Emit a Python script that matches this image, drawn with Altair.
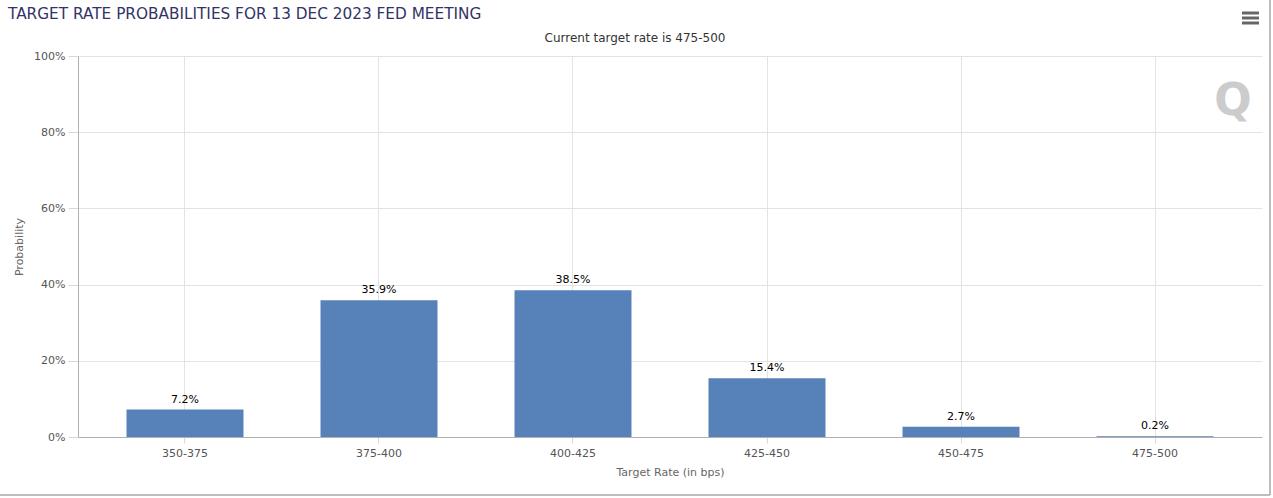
import altair as alt
import pandas as pd

categories = ["350-375", "375-400", "400-425", "425-450", "450-475", "475-500"]
probabilities = [7.2, 35.9, 38.5, 15.4, 2.7, 0.2]
y_ticks = [0, 20, 40, 60, 80, 100]

title_text = "TARGET RATE PROBABILITIES FOR 13 DEC 2023 FED MEETING"
subtitle_text = "Current target rate is 475-500"

FONT = "DejaVu Sans"
BAR = "#5681b9"

df = pd.DataFrame({
    "rate": categories,
    "prob": probabilities,
    "label": [f"{v:.1f}%" for v in probabilities],
})

W, H = 1184, 381

x_enc = alt.X(
    "rate:N", sort=categories,
    scale=alt.Scale(paddingInner=0.397, paddingOuter=0.25),
    axis=alt.Axis(
        title="Target Rate (in bps)", labelAngle=0, labelFont=FONT, labelFontSize=11,
        labelColor="#555555", titleFont=FONT, titleFontSize=11, titleFontWeight="normal",
        titleColor="#666666", domainColor="#b0b0b0", tickColor="#d8d8d8", tickSize=6,
        labelPadding=4, titlePadding=8, grid=True, gridColor="#e3e3e3",
    ),
)
y_enc = alt.Y(
    "prob:Q",
    scale=alt.Scale(domain=[0, 100], nice=False),
    axis=alt.Axis(
        title="Probability", values=y_ticks, labelExpr="datum.value + '%'",
        labelFont=FONT, labelFontSize=11, labelColor="#555555",
        titleFont=FONT, titleFontSize=11, titleFontWeight="normal", titleColor="#666666",
        domainColor="#b0b0b0", tickColor="#d8d8d8", tickSize=10, labelPadding=3,
        titlePadding=9, grid=True, gridColor="#e3e3e3",
    ),
)

bars = alt.Chart(df).mark_bar(color=BAR).encode(x=x_enc, y=y_enc)
labels = alt.Chart(df).mark_text(
    font=FONT, fontSize=11, color="#000000", dy=-7, baseline="alphabetic"
).encode(x=alt.X("rate:N", sort=categories), y="prob:Q", text="label:N")

one = pd.DataFrame({"t": [subtitle_text]})
subtitle = alt.Chart(one).mark_text(
    font=FONT, fontSize=12, color="#333333", baseline="middle", align="center"
).encode(x=alt.value(557), y=alt.value(-18), text="t:N")

title = alt.Chart(pd.DataFrame({"t": [title_text]})).mark_text(
    font=FONT, fontSize=15.3, color="#333366", baseline="middle", align="left"
).encode(x=alt.value(-70), y=alt.value(-42), text="t:N")

logo = alt.Chart(pd.DataFrame({"t": ["Q"]})).mark_text(
    font=FONT, fontSize=44, fontWeight="bold", color="#cccccc", baseline="middle", align="center"
).encode(x=alt.value(1155), y=alt.value(46), text="t:N")

menu = [
    alt.Chart(one).mark_rule(color="#666666", strokeWidth=3).encode(
        x=alt.value(1164), x2=alt.value(1181), y=alt.value(yy)
    )
    for yy in (-43, -38, -33)
]

border_r = alt.Chart(one).mark_rule(color="#a8a8a8", strokeWidth=1.5).encode(
    x=alt.value(1192), y=alt.value(-56), y2=alt.value(439)
)
border_b = alt.Chart(one).mark_rule(color="#a8a8a8", strokeWidth=1.5).encode(
    x=alt.value(-78), x2=alt.value(1192), y=alt.value(439)
)

chart = alt.layer(bars, labels, subtitle, title, logo, *menu, border_r, border_b).properties(
    width=W, height=H,
    autosize=alt.AutoSizeParams(type="none"),
    padding={"left": 78, "top": 56, "right": 11, "bottom": 61},
    background="white",
).configure_view(strokeWidth=0)

chart.save("out.html", embed_options={"renderer": "svg", "actions": False})
